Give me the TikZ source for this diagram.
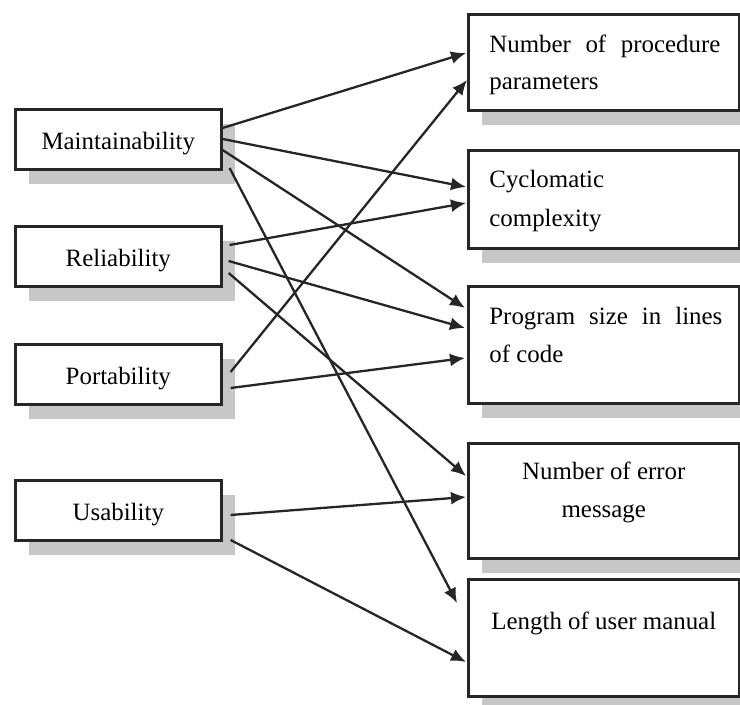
\documentclass[tikz,border=0pt]{standalone}
\usepackage{fontspec}
\setmainfont{Liberation Serif}
\usetikzlibrary{arrows.meta,calc,shadows}

\begin{document}
\begin{tikzpicture}[x=0.5pt,y=-0.5pt,
  box/.style={draw=black!85, line width=1.3pt, fill=white, inner sep=0pt,
    anchor=north west,
    drop shadow={shadow xshift=7pt, shadow yshift=-7.5pt, fill=black!22, opacity=1}},
  lbox/.style={box, minimum width=103pt, minimum height=30pt,
    font=\fontsize{12.45}{15}\selectfont, text height=10pt, text depth=0pt},
  rbox/.style={box, minimum width=135.5pt},
  lbl/.style={font=\fontsize{12.45}{15}\selectfont, inner sep=0pt, anchor=base west},
  clbl/.style={lbl, anchor=base},
  link/.style={draw=black!85, line width=1.15pt, -{Latex[length=7.5pt,width=6.5pt]}}]

\useasboundingbox (0,0) rectangle (740,705);

% quality attributes
\node[lbox] (m) at (14,108) {Maintainability};
\node[lbox] (r) at (14,225) {Reliability};
\node[lbox] (p) at (14,343) {Portability};
\node[lbox] (u) at (14,479) {Usability};

% metrics
\node[rbox, minimum height=48pt]   (n1) at (467,13)  {};
\node[rbox, minimum height=49pt]   (c)  at (467,149) {};
\node[rbox, minimum height=58.5pt] (ps) at (467,285) {};
\node[rbox, minimum height=57.5pt] (ne) at (467,442) {};
\node[rbox, minimum height=58.5pt] (l)  at (467,578) {};

\node[lbl] (n1a) at ($(n1.north west)+(22,40)$) {\makebox[115.5pt][s]{Number of procedure}};
\node[lbl] (n1b) at ($(n1.north west)+(22,77)$) {parameters};
\node[lbl] (ca) at ($(c.north west)+(22,39)$) {Cyclomatic};
\node[lbl] (cb) at ($(c.north west)+(22,78)$) {complexity};
\node[lbl] (psa) at ($(ps.north west)+(22,40)$) {\makebox[116.5pt][s]{Program size in lines}};
\node[lbl] (psb) at ($(ps.north west)+(22,78)$) {of code};
\node[clbl] (nea) at ($(ne.north)+(0,38)$) {Number of error};
\node[clbl] (neb) at ($(ne.north)+(0,76)$) {message};
\node[clbl] (la) at ($(l.north)+(0,52)$) {Length of user manual};

% attribute-to-metric links
\draw[link] ($(m.north east)+(0,20)$) -- ($(n1.north west)+(-1,40)$);
\draw[link] ($(m.north east)+(0,31)$) -- ($(c.north west)+(-1,38)$);
\draw[link] ($(m.north east)+(0,42)$) -- ($(ps.north west)+(-2,23)$);
\draw[link] ($(m.north east)+(7,60)$) -- ($(l.north west)+(-10,25)$);
\draw[link] ($(r.north east)+(7,20)$) -- ($(c.north west)+(-1,54)$);
\draw[link] ($(r.north east)+(6,36)$) -- ($(ps.north west)+(-2,43)$);
\draw[link] ($(r.north east)+(6,48)$) -- ($(ne.north west)+(-1,34)$);
\draw[link] ($(p.north east)+(8,29)$) -- ($(n1.north west)+(0,67)$);
\draw[link] ($(p.north east)+(8,45)$) -- ($(ps.north west)+(-2,73)$);
\draw[link] ($(u.north east)+(8,36)$) -- ($(ne.north west)+(-1,55)$);
\draw[link] ($(u.north east)+(8,61)$) -- ($(l.north west)+(-1,84)$);
\end{tikzpicture}
\end{document}
